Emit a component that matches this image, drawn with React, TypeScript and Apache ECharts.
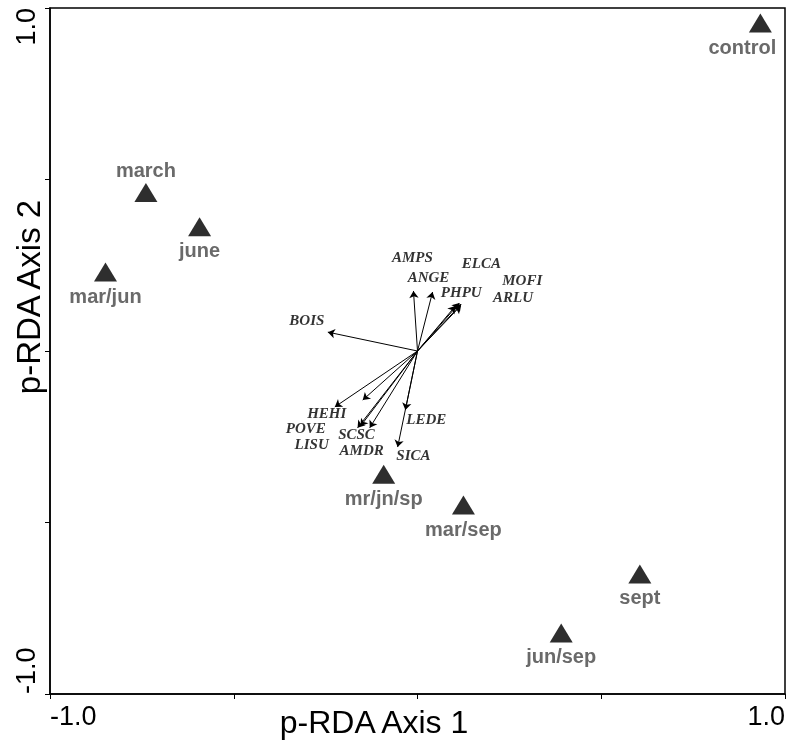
import React, { useEffect, useRef } from "react";
import * as echarts from "echarts";

// Site centroids (p-RDA axis 1, axis 2)
const siteNames = ["control", "march", "june", "mar/jun", "mr/jn/sp", "mar/sep", "sept", "jun/sep"];
const siteX = [0.933, -0.739, -0.593, -0.849, -0.092, 0.125, 0.605, 0.391];
const siteY = [0.956, 0.462, 0.362, 0.230, -0.359, -0.449, -0.650, -0.822];

// Species arrows (tips) and their label positions
const speciesNames = ["BOIS", "AMPS", "ANGE", "PHPU", "ELCA", "MOFI", "ARLU", "HEHI", "POVE", "LISU", "SCSC", "AMDR", "LEDE", "SICA"];
const speciesX = [-0.244, -0.011, 0.041, 0.103, 0.114, 0.119, 0.117, -0.225, -0.149, -0.163, -0.155, -0.130, -0.033, -0.054];
const speciesY = [0.055, 0.175, 0.172, 0.131, 0.140, 0.137, 0.131, -0.163, -0.143, -0.224, -0.219, -0.224, -0.172, -0.280];
const speciesLabelX = [-0.301, -0.014, 0.030, 0.119, 0.174, 0.285, 0.260, -0.247, -0.304, -0.288, -0.166, -0.152, 0.024, -0.011];
const speciesLabelY = [0.090, 0.274, 0.216, 0.172, 0.257, 0.207, 0.157, -0.181, -0.224, -0.271, -0.242, -0.289, -0.198, -0.303];

const axisMin = -1;
const axisMax = 1;
const axisInterval = 0.5;
const shownTickLabels = [-1, 1];
const xTitle = "p-RDA Axis 1";
const yTitle = "p-RDA Axis 2";

export default function App() {
  const ref = useRef<HTMLDivElement>(null);
  useEffect(() => {
    if (!ref.current) return;
    const chart = echarts.init(ref.current, undefined, { renderer: "svg" });
    const fmt = (v: number) => (shownTickLabels.includes(v) ? v.toFixed(1) : "");
    const sansFont = "'Liberation Sans', Arial, Helvetica, sans-serif";
    chart.setOption({
      animation: false,
      grid: {
        left: 50,
        right: 1,
        top: 8,
        bottom: 51,
        show: true,
        borderColor: "#000",
        borderWidth: 1.5,
        backgroundColor: "transparent",
      },
      xAxis: {
        type: "value",
        min: axisMin,
        max: axisMax,
        interval: axisInterval,
        splitLine: { show: false },
        axisLine: { onZero: false, lineStyle: { color: "#000", width: 1.5 } },
        axisTick: { show: true, inside: false, length: 5, lineStyle: { color: "#000", width: 1 } },
        axisLabel: {
          formatter: fmt,
          fontSize: 27,
          color: "#000",
          fontFamily: sansFont,
          margin: 8,
          alignMinLabel: "left",
          alignMaxLabel: "right",
          showMinLabel: true,
          showMaxLabel: true,
        },
      },
      yAxis: {
        type: "value",
        min: axisMin,
        max: axisMax,
        interval: axisInterval,
        splitLine: { show: false },
        axisLine: { onZero: false, lineStyle: { color: "#000", width: 1.5 } },
        axisTick: { show: true, inside: false, length: 5, lineStyle: { color: "#000", width: 1 } },
        axisLabel: {
          formatter: fmt,
          fontSize: 27,
          color: "#000",
          fontFamily: sansFont,
          rotate: 90,
          margin: 11,
          alignMinLabel: "left",
          alignMaxLabel: "right",
          showMinLabel: true,
          showMaxLabel: true,
        },
      },
      graphic: [
        {
          type: "text",
          x: 374,
          y: 722,
          style: {
            text: xTitle,
            fontSize: 32,
            fontFamily: sansFont,
            fill: "#000",
            textAlign: "center",
            align: "center",
            textVerticalAlign: "middle",
            verticalAlign: "middle",
          },
        },
        {
          type: "text",
          x: 28,
          y: 297,
          rotation: Math.PI / 2,
          style: {
            text: yTitle,
            fontSize: 33,
            fontFamily: sansFont,
            fill: "#000",
            textAlign: "center",
            align: "center",
            textVerticalAlign: "middle",
            verticalAlign: "middle",
          },
        },
      ],
      series: [
        {
          type: "lines",
          coordinateSystem: "cartesian2d",
          silent: true,
          symbol: ["none", "arrow"],
          symbolSize: [5, 7],
          lineStyle: { color: "#000", width: 1, opacity: 1, curveness: 0 },
          data: speciesNames.map((n, i) => ({
            name: n,
            coords: [
              [0, 0],
              [speciesX[i], speciesY[i]],
            ],
          })),
        },
        {
          type: "scatter",
          silent: true,
          symbolSize: 0,
          itemStyle: { color: "transparent" },
          label: {
            show: true,
            position: "inside",
            formatter: "{b}",
            fontFamily: "'Liberation Serif', 'Times New Roman', serif",
            fontStyle: "italic",
            fontWeight: "bold",
            fontSize: 15,
            lineHeight: 13,
            color: "#000",
          },
          data: speciesNames.map((n, i) => ({ name: n, value: [speciesLabelX[i], speciesLabelY[i]] })),
        },
        {
          type: "scatter",
          silent: true,
          symbol: "triangle",
          symbolSize: [23, 19],
          itemStyle: { color: "#2e2e2e", opacity: 1 },
          label: {
            show: true,
            position: "bottom",
            distance: 4,
            formatter: "{b}",
            fontFamily: sansFont,
            fontWeight: "bold",
            fontSize: 20,
            color: "#6a6a6a",
          },
          data: siteNames.map((n, i) => ({
            name: n,
            value: [siteX[i], siteY[i]],
            label:
              n === "march"
                ? { position: "top", distance: 3 }
                : n === "control"
                ? { offset: [-18, 0] }
                : undefined,
          })),
        },
      ],
    });
    return () => chart.dispose();
  }, []);
  return <div ref={ref} style={{ position: "fixed", left: 0, top: 0, width: 788, height: 745 }} />;
}
